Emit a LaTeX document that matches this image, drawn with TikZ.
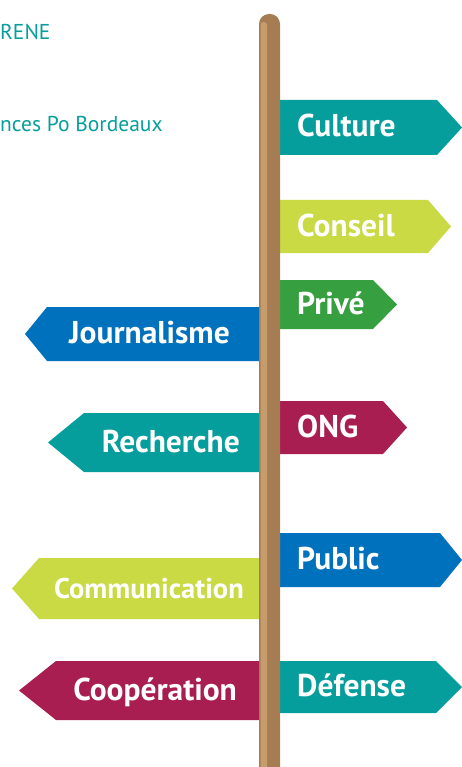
\documentclass[tikz,border=0pt]{standalone}
\usepackage{fontspec}
\setmainfont{PT Sans}
\definecolor{signteal}{HTML}{069E9C}
\definecolor{signlime}{HTML}{C9DA45}
\definecolor{signgreen}{HTML}{36A040}
\definecolor{signblue}{HTML}{0071BC}
\definecolor{signwine}{HTML}{A91E51}
\definecolor{poledark}{HTML}{A67C52}
\definecolor{polelight}{HTML}{C69C6D}
\begin{document}
\begin{tikzpicture}[x=1pt, y=-1pt, font=\bfseries\fontsize{31.5}{31.5}\selectfont, text=white,
        signtext/.style={inner sep=0pt}, headtext/.style={inner sep=0pt, anchor=base west, text=signteal, font=\fontsize{21.5}{21.5}\selectfont}]
        \useasboundingbox (0,0) rectangle (462,767);
        \node[headtext] (head1) at (0,40) {RENE};
        \node[headtext] (head2) at (0,132) {nces Po Bordeaux};
        % signs pointing right
        \foreach \name/\txt/\col/\ya/\yb/\xc/\xt in
            {culture/Culture/signteal/100/155/437/462, conseil/Conseil/signlime/200/253/428/451,
             prive/Privé/signgreen/280/329/373/397, ong/ONG/signwine/401/454/383/407,
             public/Public/signblue/533/587/440/462, defense/Défense/signteal/661/713/436/462}{
                \fill[\col] (280,\ya) -- (\xc,\ya) -- (\xt,{(\ya+\yb)/2}) -- (\xc,\yb) -- (280,\yb) -- cycle;
                \node[signtext, anchor=base west] (\name) at (297,{(\ya+\yb)/2+9.5}) {\txt};
        }
        % signs pointing left
        \foreach \name/\txt/\col/\ya/\yb/\xc/\xt/\xs/\fs in
            {journ/Journalisme/signblue/307/361/47/25/230/31.5, rech/Recherche/signteal/413/472/84/48/240/31.5,
             comm/Communication/signlime/558/619/39/12/244/28.5, coop/Coopération/signwine/661/720/56/19/237/31.5}{
                \fill[\col] (259,\ya) -- (\xc,\ya) -- (\xt,{(\ya+\yb)/2}) -- (\xc,\yb) -- (259,\yb) -- cycle;
                \node[signtext, anchor=base east, font=\bfseries\fontsize{\fs}{\fs}\selectfont] (\name)
                    at (\xs,{(\ya+\yb)/2+9.5}) {\txt};
        }
        % pole
        \fill[poledark, rounded corners=10pt] (259,14) rectangle (280,790);
        \fill[polelight, rounded corners=3pt] (260.5,22) rectangle (267,790);
        \end{tikzpicture}
\end{document}
